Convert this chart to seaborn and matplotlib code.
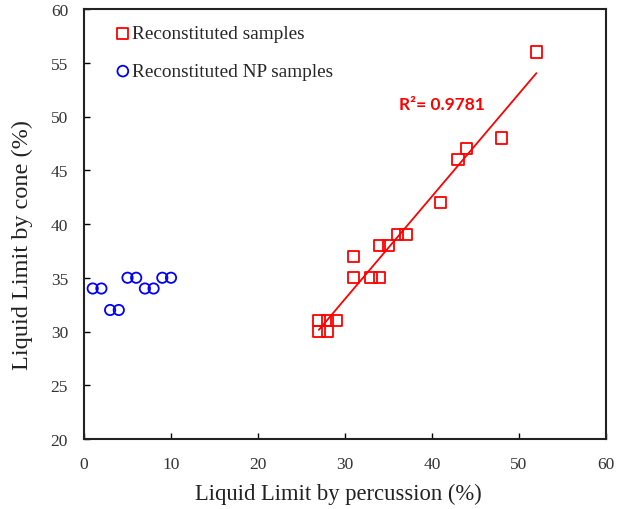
import matplotlib
matplotlib.use("Agg")
import matplotlib.pyplot as plt
import seaborn as sns
import numpy as np
import pandas as pd

# Data
recon_x = [27, 28, 27, 28, 29, 31, 31, 33, 34, 34, 35, 36, 37, 41, 43, 44, 48, 52]
recon_y = [30, 30, 31, 31, 31, 35, 37, 35, 35, 38, 38, 39, 39, 42, 46, 47, 48, 56]
np_x = [1, 2, 3, 4, 5, 6, 7, 8, 9, 10]
np_y = [34, 34, 32, 32, 35, 35, 34, 34, 35, 35]
r2_label = "R\u00b2= 0.9781"
x_ticks = [0, 10, 20, 30, 40, 50, 60]
y_ticks = [20, 25, 30, 35, 40, 45, 50, 55, 60]

sns.set_style("white")
plt.rcParams['font.family'] = ['Liberation Serif', 'DejaVu Serif']

fig = plt.figure(figsize=(6.2, 5.1), dpi=100)
ax = fig.add_axes([84/620, 1-440/510, (606-84)/620, (440-10)/510])

df_r = pd.DataFrame({"x": recon_x, "y": recon_y})
df_n = pd.DataFrame({"x": np_x, "y": np_y})

sns.scatterplot(data=df_r, x="x", y="y", marker="s", s=66, facecolor="none",
                edgecolor="#ff0000", linewidth=1.3, ax=ax, label="Reconstituted samples")
sns.scatterplot(data=df_n, x="x", y="y", marker="o", s=55, facecolor="none",
                edgecolor="#0000ff", linewidth=1.3, ax=ax, label="Reconstituted NP samples")

coef = np.polyfit(recon_x, recon_y, 1)
xl = np.array([min(recon_x), max(recon_x)])
ax.plot(xl, np.polyval(coef, xl), color="#ff0000", linewidth=1.3)

ax.text(36.2, 51.2, r2_label, color="#ff0000", fontsize=12.5, fontweight="bold",
        family=["Lato", "DejaVu Sans"], va="center", ha="left")

ax.set_xlim(0, 60)
ax.set_ylim(20, 60)
ax.set_xticks(x_ticks)
ax.set_yticks(y_ticks)
ax.tick_params(direction="in", length=4, width=1, labelsize=12.5, colors="black",
               labelcolor="#333333", left=True, bottom=True)
ax.tick_params(axis="x", pad=12.5)
ax.tick_params(axis="y", pad=11.5)
for s in ax.spines.values():
    s.set_color("#222222")
    s.set_linewidth(1.5)
ax.set_xlabel("Liquid Limit by percussion (%)", fontsize=16.3, color="#222222")
ax.xaxis.set_label_coords(0.487, -0.103)
ax.set_ylabel("Liquid Limit by cone (%)", fontsize=17.5, color="#222222")
ax.yaxis.set_label_coords(-0.098, 0.453)

leg = ax.legend(loc="upper left", bbox_to_anchor=(0.03, 0.99), frameon=False,
                fontsize=13.9, handletextpad=-0.15, borderaxespad=0.2, labelspacing=1.05,
                handlelength=1.2)
for h in leg.legend_handles:
    h.set_sizes([60])

fig.savefig("out.png", dpi=100)
